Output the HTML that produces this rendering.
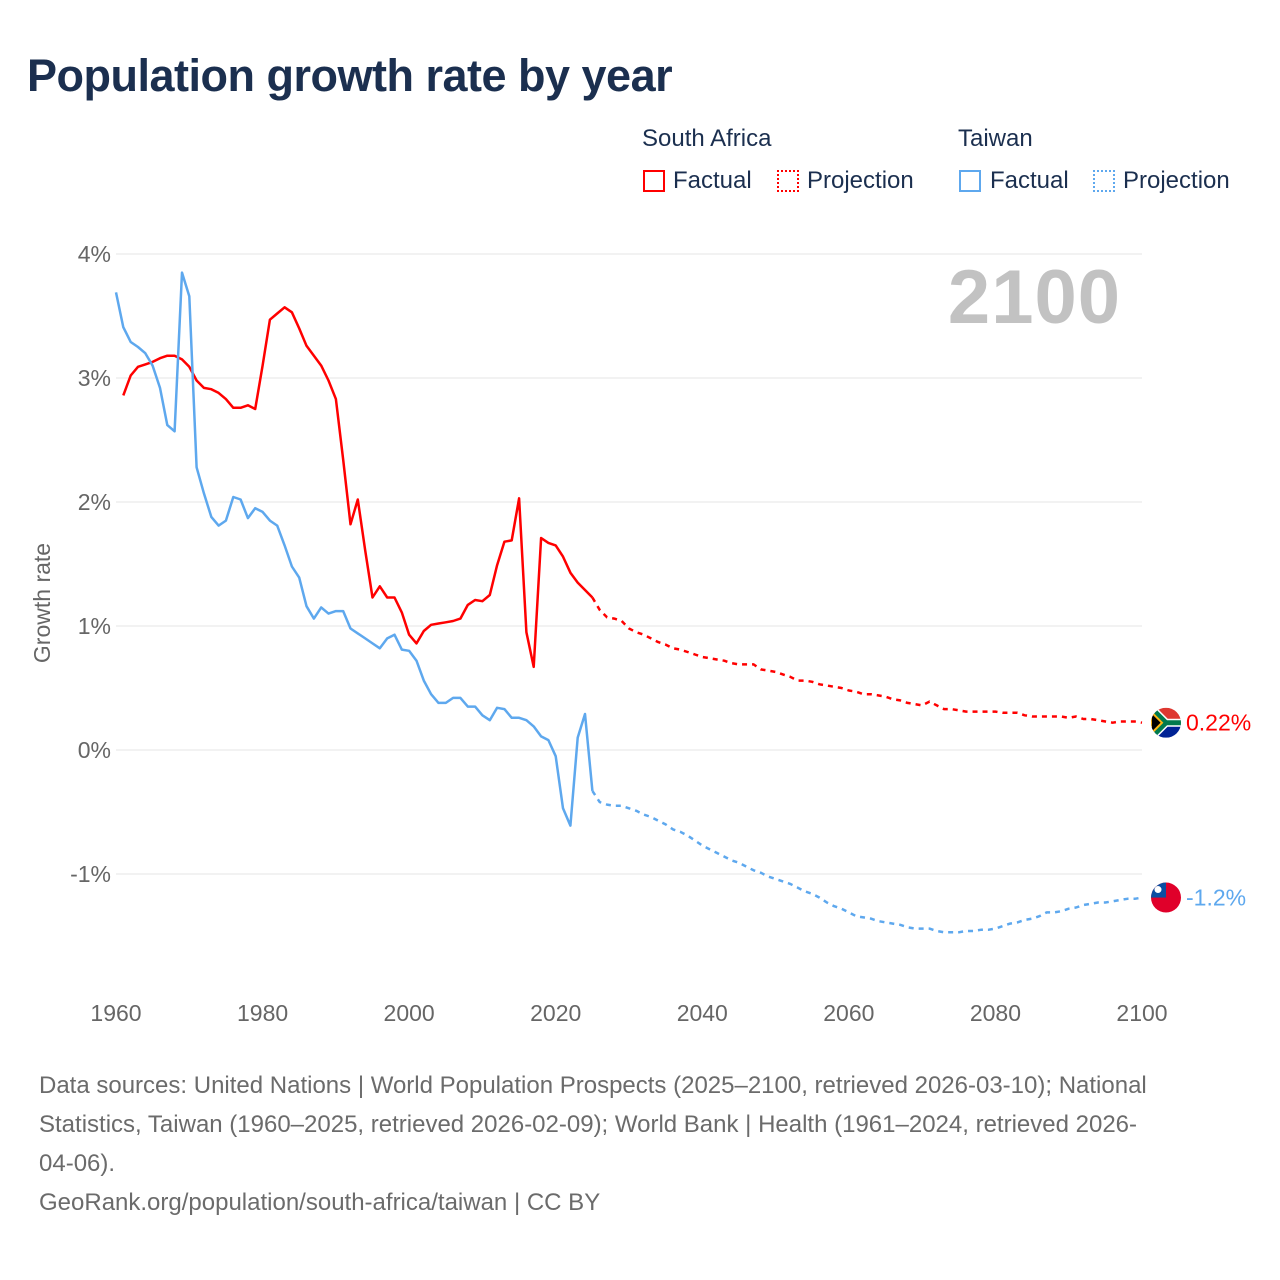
<!DOCTYPE html>
<html><head><meta charset="utf-8">
<style>
body{margin:0;background:#fff;font-family:"Liberation Sans",sans-serif;}
#wrap{position:relative;width:1280px;height:1280px;overflow:hidden;}
h1{position:absolute;left:27px;top:50px;margin:0;font-size:45px;font-weight:bold;color:#1b2f4f;letter-spacing:-0.5px;}
.lg{position:absolute;font-size:24px;color:#1b2f4f;}
.box{position:absolute;width:22px;height:22px;box-sizing:border-box;}
.foot{position:absolute;left:39px;top:1066px;width:1230px;font-size:24px;line-height:39px;color:#6b6b6b;white-space:nowrap;}
</style></head><body>
<div id="wrap">
<h1>Population growth rate by year</h1>
<div class="lg" style="left:642px;top:125px">South Africa</div>
<div class="lg" style="left:958px;top:125px">Taiwan</div>
<div class="box" style="left:643px;top:170px;border:2px solid #f00"></div>
<div class="lg" style="left:673px;top:167px">Factual</div>
<div class="box" style="left:777px;top:170px;border:2px dotted #f00"></div>
<div class="lg" style="left:807px;top:167px">Projection</div>
<div class="box" style="left:959px;top:170px;border:2px solid #5ea8ee"></div>
<div class="lg" style="left:990px;top:167px">Factual</div>
<div class="box" style="left:1093px;top:170px;border:2px dotted #5ea8ee"></div>
<div class="lg" style="left:1123px;top:167px">Projection</div>
<svg id="chart" width="1280" height="1060" style="position:absolute;left:0;top:0"></svg>
<div class="foot">Data sources: United Nations | World Population Prospects (2025–2100, retrieved 2026-03-10); National<br>Statistics, Taiwan (1960–2025, retrieved 2026-02-09); World Bank | Health (1961–2024, retrieved 2026-<br>04-06).<br>GeoRank.org/population/south-africa/taiwan | CC BY</div>
</div>
<script>
const yTicks=[4,3,2,1,0,-1];
const yTickLabels=["4%","3%","2%","1%","0%","-1%"];
const xTicks=[1960,1980,2000,2020,2040,2060,2080,2100];
const saFactualStart=1961;
const saFactual=[2.86,3.02,3.09,3.11,3.13,3.16,3.18,3.18,3.15,3.09,2.98,2.92,2.91,2.88,2.83,2.76,2.76,2.78,2.75,3.10,3.47,3.52,3.57,3.53,3.40,3.26,3.18,3.10,2.98,2.83,2.34,1.82,2.02,1.61,1.23,1.32,1.23,1.23,1.11,0.93,0.86,0.96,1.01,1.02,1.03,1.04,1.06,1.17,1.21,1.20,1.25,1.49,1.68,1.69,2.03,0.95,0.67,1.71,1.67,1.65,1.56,1.43,1.35,1.29,1.23];
const twFactualStart=1960;
const twFactual=[3.69,3.41,3.29,3.25,3.20,3.10,2.92,2.62,2.57,3.85,3.66,2.28,2.07,1.88,1.81,1.85,2.04,2.02,1.87,1.95,1.92,1.85,1.81,1.65,1.48,1.39,1.16,1.06,1.15,1.10,1.12,1.12,0.98,0.94,0.90,0.86,0.82,0.90,0.93,0.81,0.80,0.72,0.56,0.45,0.38,0.38,0.42,0.42,0.35,0.35,0.28,0.24,0.34,0.33,0.26,0.26,0.24,0.19,0.11,0.08,-0.05,-0.47,-0.61,0.10,0.29,-0.33];
const projStart=2025;
const saProj=[1.23,1.13,1.07,1.06,1.04,0.98,0.95,0.93,0.90,0.87,0.85,0.82,0.81,0.79,0.77,0.75,0.74,0.73,0.72,0.70,0.69,0.69,0.69,0.65,0.64,0.63,0.61,0.59,0.56,0.56,0.55,0.53,0.52,0.51,0.50,0.48,0.47,0.45,0.45,0.44,0.43,0.41,0.40,0.38,0.37,0.36,0.39,0.36,0.33,0.33,0.32,0.31,0.31,0.31,0.31,0.31,0.30,0.30,0.30,0.28,0.27,0.27,0.27,0.27,0.27,0.26,0.27,0.25,0.25,0.24,0.23,0.22,0.23,0.23,0.23,0.22];
const twProj=[-0.33,-0.42,-0.44,-0.45,-0.45,-0.47,-0.49,-0.52,-0.54,-0.57,-0.60,-0.64,-0.66,-0.69,-0.73,-0.77,-0.80,-0.83,-0.86,-0.89,-0.91,-0.94,-0.97,-0.99,-1.02,-1.04,-1.06,-1.08,-1.11,-1.14,-1.16,-1.19,-1.23,-1.26,-1.28,-1.31,-1.34,-1.35,-1.36,-1.38,-1.39,-1.40,-1.41,-1.43,-1.44,-1.44,-1.44,-1.46,-1.47,-1.47,-1.47,-1.46,-1.46,-1.45,-1.45,-1.44,-1.42,-1.40,-1.39,-1.37,-1.36,-1.34,-1.31,-1.31,-1.30,-1.28,-1.27,-1.25,-1.24,-1.23,-1.23,-1.22,-1.21,-1.20,-1.20,-1.19];

const NS="http://www.w3.org/2000/svg";
const svg=document.getElementById('chart');
const xS=y=>116+(y-1960)*(1026/140);
const yS=v=>750-v*124;
function mk(t,a){const e=document.createElementNS(NS,t);for(const k in a)e.setAttribute(k,a[k]);svg.appendChild(e);return e;}
yTicks.forEach((v,i)=>{
  const g=mk('line',{x1:116,x2:1142,y1:yS(v),y2:yS(v),stroke:'#e6e6e6','stroke-width':1});
  
  
  const t=mk('text',{x:111,y:yS(v)+8,'text-anchor':'end','font-size':23,fill:'#666','font-family':'Liberation Sans'});
  t.textContent=yTickLabels[i];
  
  
});
xTicks.forEach(y=>{
  const t=mk('text',{x:xS(y),y:1021,'text-anchor':'middle','font-size':23,fill:'#666','font-family':'Liberation Sans'});
  t.textContent=y;
  
  
});
const yt=mk('text',{x:0,y:0,'text-anchor':'middle','font-size':23,fill:'#666','font-family':'Liberation Sans',transform:'translate(50,603) rotate(-90)'});
yt.textContent='Growth rate';


const yr=mk('text',{x:1121,y:323,'text-anchor':'end','font-size':76,'font-weight':'bold',fill:'#c2c2c2','font-family':'Liberation Sans','letter-spacing':'1'});
yr.textContent='2100';


function line(vals,start,color,dash,name){
  const d=vals.map((v,i)=>(i?'L':'M')+xS(start+i).toFixed(1)+','+yS(v).toFixed(1)).join('');
  const p=mk('path',{d:d,fill:'none',stroke:color,'stroke-width':2.5,'stroke-linejoin':'round'});
  if(dash)p.setAttribute('stroke-dasharray','5,5');
  
  
}
line(saFactual,saFactualStart,'#f00',false,'sa-factual-line');
line(twFactual,twFactualStart,'#5ea8ee',false,'tw-factual-line');
line(saProj,projStart,'#f00',true,'sa-projection-line');
line(twProj,projStart,'#5ea8ee',true,'tw-projection-line');
const saEnd=saProj[saProj.length-1], twEnd=twProj[twProj.length-1];
const fx=1166;
let y1=yS(saEnd);
let g=mk('g',{});


let cp=mk('clipPath',{id:'c1'});cp.appendChild(document.createElementNS(NS,'circle'));
cp.firstChild.setAttribute('cx',fx);cp.firstChild.setAttribute('cy',y1);cp.firstChild.setAttribute('r',15);
const sa=[['rect',{x:fx-15,y:y1-15,width:30,height:15,fill:'#de3831'}],['rect',{x:fx-15,y:y1,width:30,height:15,fill:'#002395'}],['path',{d:`M${fx-15},${y1-15}L${fx},${y1}L${fx+15},${y1}M${fx-15},${y1+15}L${fx},${y1}`,stroke:'#fff','stroke-width':8,fill:'none'}],['path',{d:`M${fx-15},${y1-15}L${fx},${y1}L${fx+15},${y1}M${fx-15},${y1+15}L${fx},${y1}`,stroke:'#007a4d','stroke-width':5,fill:'none'}],['path',{d:`M${fx-15},${y1-11}L${fx-4},${y1}L${fx-15},${y1+11}Z`,fill:'#000',stroke:'#ffb612','stroke-width':2}]];
sa.forEach(([t,a])=>{a['clip-path']='url(#c1)';const e=mk(t,a);g.appendChild(e);});
let l1=mk('text',{x:1186,y:y1+8,'font-size':23,fill:'#f00','font-family':'Liberation Sans'});
l1.textContent=saEnd.toFixed(2)+'%';


let y2=yS(twEnd);
let c2=mk('circle',{cx:fx,cy:y2,r:15,fill:'#e0002a'});


let cp2=mk('clipPath',{id:'c2'});const cc=document.createElementNS(NS,'circle');cc.setAttribute('cx',fx);cc.setAttribute('cy',y2);cc.setAttribute('r',15);cp2.appendChild(cc);
mk('rect',{x:fx-15,y:y2-15,width:15,height:15,fill:'#0b4ea2','clip-path':'url(#c2)'});
mk('circle',{cx:fx-8,cy:y2-8,r:3.5,fill:'#fff'});
let l2=mk('text',{x:1186,y:y2+8,'font-size':23,fill:'#5ea8ee','font-family':'Liberation Sans'});
l2.textContent=twEnd.toFixed(1)+'%';


</script>
</body></html>
